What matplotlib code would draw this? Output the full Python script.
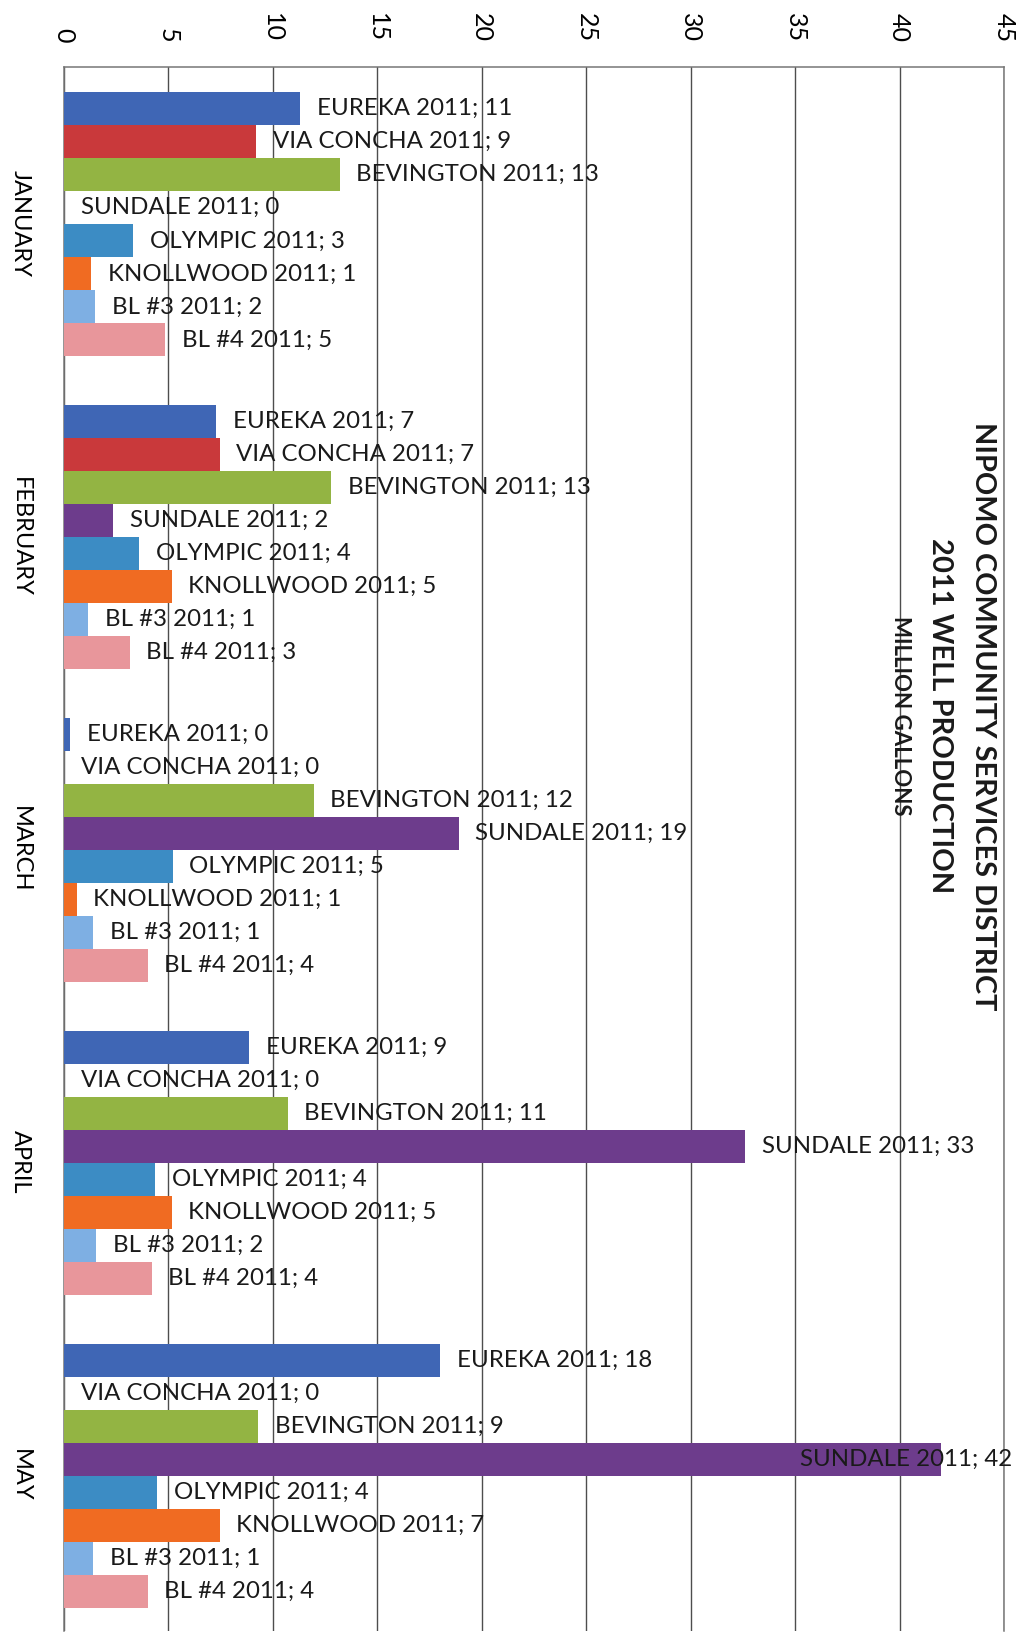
import numpy as np
import matplotlib.pyplot as plt

# data (million gallons)
months = ['JANUARY', 'FEBRUARY', 'MARCH', 'APRIL', 'MAY']
wells = ['EUREKA', 'VIA CONCHA', 'BEVINGTON', 'SUNDALE',
         'OLYMPIC', 'KNOLLWOOD', 'BL #3', 'BL #4']
eureka = [11.3, 7.3, 0.3, 8.85, 18.0]
via_concha = [9.2, 7.45, 0, 0, 0]
bevington = [13.2, 12.8, 11.95, 10.7, 9.3]
sundale = [0, 2.35, 18.9, 32.6, 42.0]
olympic = [3.3, 3.6, 5.2, 4.35, 4.45]
knollwood = [1.3, 5.15, 0.6, 5.15, 7.45]
bl3 = [1.5, 1.15, 1.4, 1.55, 1.4]
bl4 = [4.85, 3.15, 4.0, 4.2, 4.0]
xticks = [0, 5, 10, 15, 20, 25, 30, 35, 40, 45]

series = [eureka, via_concha, bevington, sundale, olympic, knollwood, bl3, bl4]
colors = ['#3F66B5', '#C9393B', '#93B443', '#6D3C8C',
          '#3C8CC4', '#F06B22', '#7EAFE3', '#E8969B']

plt.rcParams['font.family'] = ['Lato', 'DejaVu Sans']

fig = plt.figure(figsize=(10.21, 16.38), dpi=100)
ax = fig.add_axes([0.0627, 0.004, 0.9206, 0.955])

bar_h = 0.1056
start = 0.08
y0 = np.arange(len(months))
xmax = 45
for j, (name, vals) in enumerate(zip(wells, series)):
  ys = y0 - 0.5 + start + (j + 0.5) * bar_h
  ax.barh(ys, vals, height=bar_h, color=colors[j], zorder=3)
  for y, v in zip(ys, vals):
    txt = '%s 2011; %d' % (name, int(v + 0.5))
    if v > 38:
      ax.annotate(txt, (xmax, y), xytext=(6, 0), textcoords='offset points',
                  ha='right', va='center', fontsize=17.3, color='#1a1a1a', zorder=4)
    else:
      ax.annotate(txt, (v, y), xytext=(12, 0), textcoords='offset points',
                  ha='left', va='center', fontsize=17.3, color='#1a1a1a', zorder=4)

ax.set_xlim(0, xmax)
ax.set_ylim(len(months) - 0.5, -0.5)
ax.xaxis.tick_top()
ax.set_xticks(xticks)
ax.set_xticklabels([str(t) for t in xticks], rotation=-90, fontsize=18)
ax.set_yticks(y0)
ax.set_yticklabels(months, rotation=-90, va='center', fontsize=17)
ax.tick_params(axis='x', length=0, pad=18)
ax.tick_params(axis='y', length=0, pad=24)
ax.grid(axis='x', color='#4d4d4d', linewidth=1.0, zorder=1)
for s in ax.spines.values():
  s.set_color('#777777')
  s.set_linewidth(1.1)
ax.spines['bottom'].set_visible(False)

# title (rotated like the rest of the chart)
fig.text(0.963, 0.563, 'NIPOMO COMMUNITY SERVICES DISTRICT', rotation=-90,
         ha='center', va='center', fontsize=20.8, fontweight='bold', color='#1a1a1a')
fig.text(0.921, 0.563, '2011 WELL PRODUCTION', rotation=-90,
         ha='center', va='center', fontsize=21, fontweight='bold', color='#1a1a1a')
fig.text(0.882, 0.563, 'MILLION GALLONS', rotation=-90,
         ha='center', va='center', fontsize=16, fontweight='bold', color='#1a1a1a')

plt.savefig('out.png', dpi=100)
